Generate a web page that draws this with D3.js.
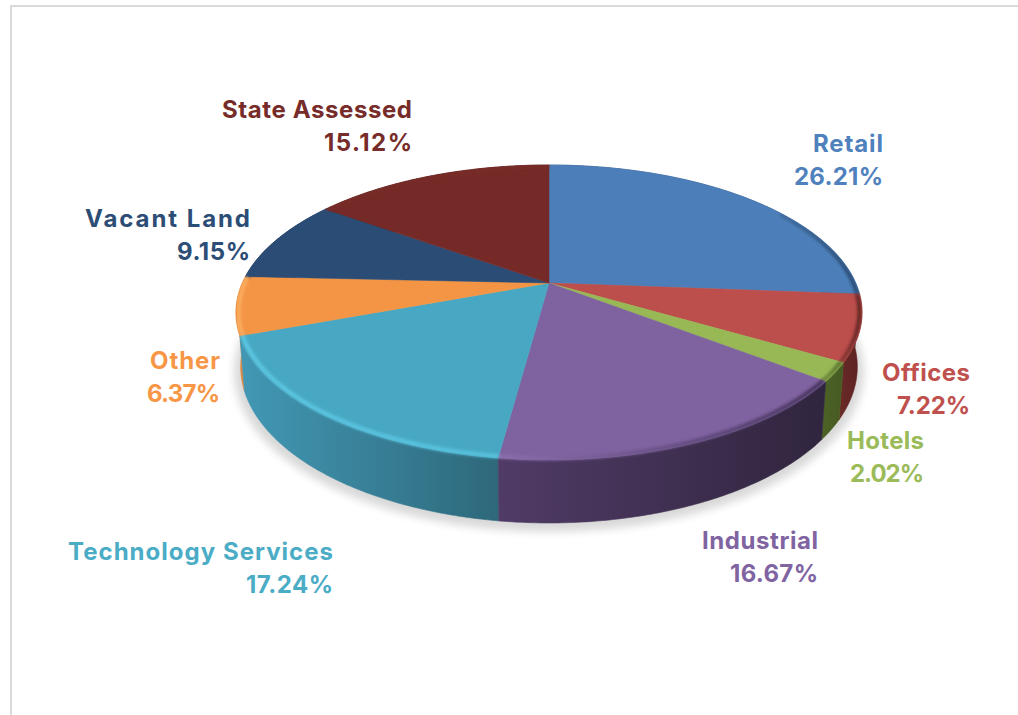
<!DOCTYPE html>
<html><head><meta charset="utf-8">
<script src="https://cdn.jsdelivr.net/npm/d3@7"></script>
<style>html,body{margin:0;padding:0;background:#fff}svg{display:block}</style>
</head><body><div id="c"></div>
<script>
const categories = ["Retail","Offices","Hotels","Industrial","Technology Services","Other","Vacant Land","State Assessed"];
const values = [26.21,7.22,2.02,16.67,17.24,6.37,9.15,15.12];
const faceColors = ["#4c7fb9","#bc4e4b","#98b856","#7f62a0","#48a8c3","#f39544","#2a4c75","#762a28"];
const labelColors = ["#4f81bd","#c0504d","#9bbb59","#8064a2","#4bacc6","#f79646","#2c4d75","#772c2a"];
const sideLeft = ["#2f5078","#6a2a28","#4c6226","#503b66","#4298b5","#d9853c","#1c3350","#4f1c1a"];
const sideRight = ["#2f5078","#5a2120","#465a22","#30253e","#2e687a","#e08c40","#1c3350","#4f1c1a"];
const rimLeft = ["#3f6a9c","#8a3836","#6f8a3a","#8c6eae","#5cc8e4","#fbae62","#2a4c75","#762a28"];
const rimRight = ["#2a4a72","#5e2523","#56702c","#43325a","#58c2de","#fbae62","#2a4c75","#762a28"];
const labelRight = [883,970,924,818,333,220,250,412];
const labelBase = [152,381,449,549,560,369,227,118];
const nameWidths = [70,88,77,116,265,70,165,190];
const pctWidths = [89,73,74,88,87,73,73,88];

const W=1018,H=715;
const svg=d3.select("#c").append("svg").attr("width",W).attr("height",H);
const defs=svg.append("defs");
const f1=defs.append("filter").attr("id","sh").attr("x","-10%").attr("y","-20%").attr("width","120%").attr("height","140%");
f1.append("feGaussianBlur").attr("stdDeviation",4.5);
const f2=defs.append("filter").attr("id","rb").attr("x","-10%").attr("y","-10%").attr("width","120%").attr("height","120%");
f2.append("feGaussianBlur").attr("stdDeviation",1.6);

// page frame
svg.append("line").attr("x1",10).attr("x2",W).attr("y1",6).attr("y2",6).attr("stroke","#d9d9d9").attr("stroke-width",2);
svg.append("line").attr("x1",11).attr("x2",11).attr("y1",5).attr("y2",H).attr("stroke","#d9d9d9").attr("stroke-width",2);

// perspective projection of the pie disk
const cx=549, cy=283, R=306.7, S=141.6, K=0.2, DEPTH=52.5, SHR=0.985;
function proj(theta,r,low){
  const u=r*Math.sin(theta), v=-r*Math.cos(theta), w=1-K*v, s=low?SHR:1;
  return [cx+s*R*u/w, cy+s*S*v/w+(low?DEPTH/w:0)];
}
function arcPts(a0,a1,r,low){
  const n=Math.max(2,Math.ceil((a1-a0)/0.01));
  return d3.range(n+1).map(i=>proj(a0+(a1-a0)*i/n,r,low));
}
const line=d3.line();
const pie=d3.pie().sort(null).value(d=>d).startAngle(0).endAngle(2*Math.PI);
const arcs=pie(values);
const TAU=2*Math.PI;

// ground shadow
svg.append("path").attr("d",line(arcPts(0,TAU,1.02,true))+"Z")
  .attr("transform","translate(0,4)").attr("fill","#000").attr("opacity",.15).attr("filter","url(#sh)");

// sides
const sides=arcs.map((a,i)=>({a,i,v:-Math.cos((a.startAngle+a.endAngle)/2)})).sort((p,q)=>p.v-q.v);
const grad=(id,pts,c0,c1)=>{
  const xs=pts.map(p=>p[0]);
  const g=defs.append("linearGradient").attr("id",id).attr("gradientUnits","userSpaceOnUse")
    .attr("x1",d3.min(xs)).attr("x2",d3.max(xs)).attr("y1",0).attr("y2",0);
  g.append("stop").attr("offset",0).attr("stop-color",c0);
  g.append("stop").attr("offset",1).attr("stop-color",c1);
};
sides.forEach(({a,i})=>{
  const top=arcPts(a.startAngle,a.endAngle,1,false), bot=arcPts(a.startAngle,a.endAngle,1,true).reverse();
  const pts=top.concat(bot);
  grad("sg"+i,pts,sideLeft[i],sideRight[i]);
  svg.append("path").attr("class","side").attr("d",line(pts)+"Z").attr("fill",`url(#sg${i})`)
    .attr("stroke",`url(#sg${i})`).attr("stroke-width",.6);
});

// top faces
const clip=defs.append("clipPath").attr("id","pieclip");
arcs.forEach((a,i)=>{
  const pts=[[cx,cy]].concat(arcPts(a.startAngle,a.endAngle,1,false));
  svg.append("path").attr("class","slice").attr("d",line(pts)+"Z").attr("fill",faceColors[i])
    .attr("stroke",faceColors[i]).attr("stroke-width",.5);
});
clip.append("path").attr("d",line(arcPts(0,TAU,1,false))+"Z");
arcs.forEach(a=>{
  const pts=arcPts(a.startAngle,a.endAngle,1,false).concat(arcPts(a.startAngle,a.endAngle,1,true).reverse());
  clip.append("path").attr("d",line(pts)+"Z");
});

// soft bevel along the rim
const rim=svg.append("g").attr("clip-path","url(#pieclip)");
arcs.forEach((a,i)=>{
  const start=i===0?a.startAngle+1.0:a.startAngle;
  const pts=arcPts(start,a.endAngle,0.992,false);
  grad("rg"+i,pts,rimLeft[i],rimRight[i]);
  rim.append("path").attr("d",line(pts)).attr("fill","none").attr("stroke",`url(#rg${i})`)
    .attr("stroke-width",4).attr("filter","url(#rb)");
});

// labels
const lab=svg.append("g").attr("font-family","Inter, sans-serif").attr("font-weight",700)
  .attr("font-size",24).attr("text-anchor","end");
categories.forEach((c,i)=>{
  lab.append("text").attr("x",labelRight[i]).attr("y",labelBase[i]).attr("fill",labelColors[i])
    .attr("textLength",nameWidths[i]).attr("lengthAdjust","spacing").text(c);
  lab.append("text").attr("x",labelRight[i]).attr("y",labelBase[i]+33).attr("fill",labelColors[i])
    .attr("textLength",pctWidths[i]).attr("lengthAdjust","spacing").text(values[i].toFixed(2)+"%");
});
</script></body></html>
